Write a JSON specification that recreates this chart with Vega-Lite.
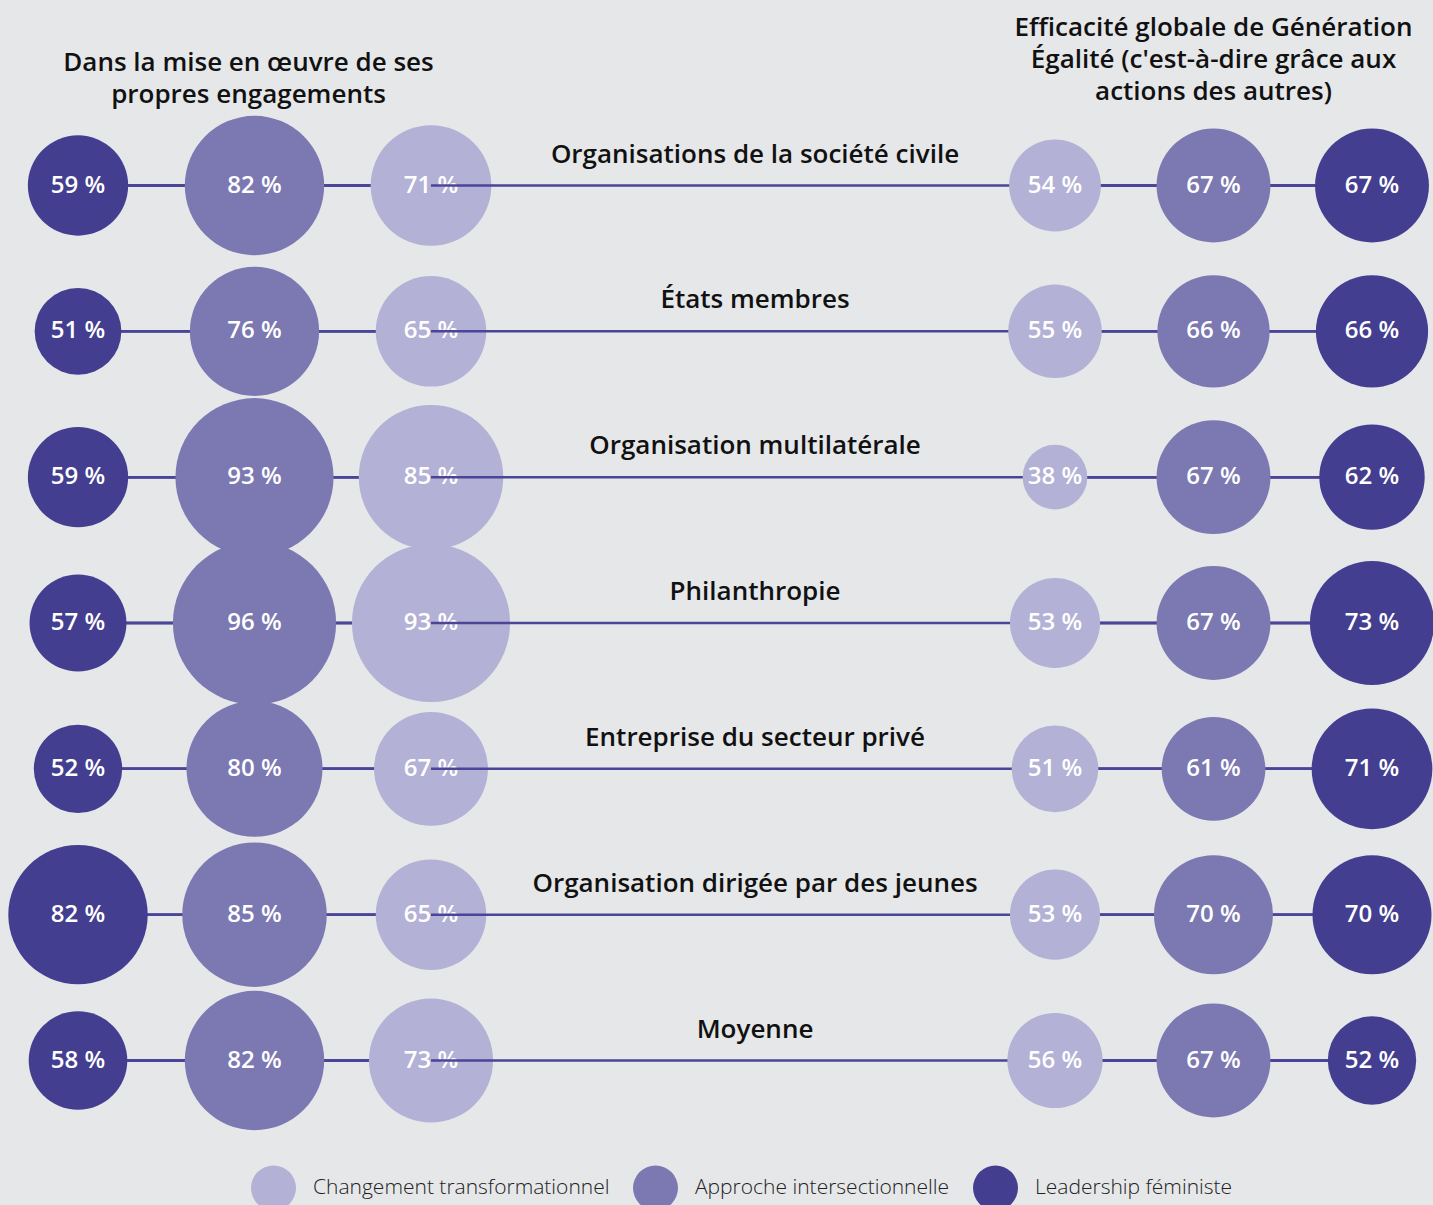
{
  "$schema": "https://vega.github.io/schema/vega-lite/v6.json",
  "background": "#e6e7e9",
  "padding": {"left": 8, "top": 14.5, "right": 0, "bottom": 0},
  "config": {
    "view": {"stroke": null},
    "font": "Open Sans",
    "title": {"font": "Open Sans", "fontSize": 26, "fontWeight": 600, "color": "#111111", "lineHeight": 32, "baseline": "bottom", "anchor": "middle", "frame": "group"}
  },
  "datasets": {
    "values": [
      {"org": "Organisations de la société civile", "side": "left", "measure": "Leadership féministe", "value": 59},
      {"org": "Organisations de la société civile", "side": "left", "measure": "Approche intersectionnelle", "value": 82},
      {"org": "Organisations de la société civile", "side": "left", "measure": "Changement transformationnel", "value": 71},
      {"org": "Organisations de la société civile", "side": "right", "measure": "Changement transformationnel", "value": 54},
      {"org": "Organisations de la société civile", "side": "right", "measure": "Approche intersectionnelle", "value": 67},
      {"org": "Organisations de la société civile", "side": "right", "measure": "Leadership féministe", "value": 67},
      {"org": "États membres", "side": "left", "measure": "Leadership féministe", "value": 51},
      {"org": "États membres", "side": "left", "measure": "Approche intersectionnelle", "value": 76},
      {"org": "États membres", "side": "left", "measure": "Changement transformationnel", "value": 65},
      {"org": "États membres", "side": "right", "measure": "Changement transformationnel", "value": 55},
      {"org": "États membres", "side": "right", "measure": "Approche intersectionnelle", "value": 66},
      {"org": "États membres", "side": "right", "measure": "Leadership féministe", "value": 66},
      {"org": "Organisation multilatérale", "side": "left", "measure": "Leadership féministe", "value": 59},
      {"org": "Organisation multilatérale", "side": "left", "measure": "Approche intersectionnelle", "value": 93},
      {"org": "Organisation multilatérale", "side": "left", "measure": "Changement transformationnel", "value": 85},
      {"org": "Organisation multilatérale", "side": "right", "measure": "Changement transformationnel", "value": 38},
      {"org": "Organisation multilatérale", "side": "right", "measure": "Approche intersectionnelle", "value": 67},
      {"org": "Organisation multilatérale", "side": "right", "measure": "Leadership féministe", "value": 62},
      {"org": "Philanthropie", "side": "left", "measure": "Leadership féministe", "value": 57},
      {"org": "Philanthropie", "side": "left", "measure": "Approche intersectionnelle", "value": 96},
      {"org": "Philanthropie", "side": "left", "measure": "Changement transformationnel", "value": 93},
      {"org": "Philanthropie", "side": "right", "measure": "Changement transformationnel", "value": 53},
      {"org": "Philanthropie", "side": "right", "measure": "Approche intersectionnelle", "value": 67},
      {"org": "Philanthropie", "side": "right", "measure": "Leadership féministe", "value": 73},
      {"org": "Entreprise du secteur privé", "side": "left", "measure": "Leadership féministe", "value": 52},
      {"org": "Entreprise du secteur privé", "side": "left", "measure": "Approche intersectionnelle", "value": 80},
      {"org": "Entreprise du secteur privé", "side": "left", "measure": "Changement transformationnel", "value": 67},
      {"org": "Entreprise du secteur privé", "side": "right", "measure": "Changement transformationnel", "value": 51},
      {"org": "Entreprise du secteur privé", "side": "right", "measure": "Approche intersectionnelle", "value": 61},
      {"org": "Entreprise du secteur privé", "side": "right", "measure": "Leadership féministe", "value": 71},
      {"org": "Organisation dirigée par des jeunes", "side": "left", "measure": "Leadership féministe", "value": 82},
      {"org": "Organisation dirigée par des jeunes", "side": "left", "measure": "Approche intersectionnelle", "value": 85},
      {"org": "Organisation dirigée par des jeunes", "side": "left", "measure": "Changement transformationnel", "value": 65},
      {"org": "Organisation dirigée par des jeunes", "side": "right", "measure": "Changement transformationnel", "value": 53},
      {"org": "Organisation dirigée par des jeunes", "side": "right", "measure": "Approche intersectionnelle", "value": 70},
      {"org": "Organisation dirigée par des jeunes", "side": "right", "measure": "Leadership féministe", "value": 70},
      {"org": "Moyenne", "side": "left", "measure": "Leadership féministe", "value": 58},
      {"org": "Moyenne", "side": "left", "measure": "Approche intersectionnelle", "value": 82},
      {"org": "Moyenne", "side": "left", "measure": "Changement transformationnel", "value": 73},
      {"org": "Moyenne", "side": "right", "measure": "Changement transformationnel", "value": 56},
      {"org": "Moyenne", "side": "right", "measure": "Approche intersectionnelle", "value": 67},
      {"org": "Moyenne", "side": "right", "measure": "Leadership féministe", "value": 52}
    ],
    "orgs": [
      {"org": "Organisations de la société civile"},
      {"org": "États membres"},
      {"org": "Organisation multilatérale"},
      {"org": "Philanthropie"},
      {"org": "Entreprise du secteur privé"},
      {"org": "Organisation dirigée par des jeunes"},
      {"org": "Moyenne"}
    ]
  },
  "spacing": 0,
  "bounds": "flush",
  "resolve": {"scale": {"x": "independent", "y": "independent", "color": "shared", "size": "shared"}},
  "hconcat": [
    {
      "width": 353,
      "height": 875,
      "title": {"text": ["Dans la mise en œuvre de ses", "propres engagements"], "offset": 8, "dx": -6},
      "data": {"name": "values"},
      "transform": [
        {"filter": "datum.side === 'left'"},
        {"calculate": "datum.value + ' %'", "as": "label"}
      ],
      "encoding": {
        "y": {"field": "org", "type": "nominal", "scale": {"type": "point", "domain": ["Organisations de la société civile", "États membres", "Organisation multilatérale", "Philanthropie", "Entreprise du secteur privé", "Organisation dirigée par des jeunes", "Moyenne"], "padding": 0}, "axis": null}
      },
      "layer": [
        {"mark": {"type": "rule", "color": "#4a4597", "strokeWidth": 2.5}, "encoding": {}},
        {
          "mark": {"type": "point", "filled": true, "opacity": 1, "shape": "circle"},
          "encoding": {
            "x": {"field": "measure", "type": "nominal", "scale": {"type": "point", "domain": ["Leadership féministe", "Approche intersectionnelle", "Changement transformationnel"], "padding": 0}, "axis": null},
            "size": {"field": "value", "type": "quantitative", "scale": {"type": "pow", "exponent": 2, "domain": [0, 100], "range": [0, 28900]}, "legend": null},
            "color": {"field": "measure", "type": "nominal", "scale": {"domain": ["Changement transformationnel", "Approche intersectionnelle", "Leadership féministe"], "range": ["#b3b1d5", "#7b78b2", "#433e90"]},
              "legend": {"title": null, "orient": "none", "legendX": 172, "legendY": 979, "direction": "horizontal", "symbolSize": 2025, "symbolType": "circle", "symbolOpacity": 1, "labelFontSize": 21, "labelFont": "Open Sans", "labelFontWeight": 300, "labelColor": "#222222", "labelOffset": 16, "columnPadding": 22, "labelLimit": 0}}
          }
        },
        {
          "mark": {"type": "text", "color": "white", "fontSize": 24, "fontWeight": 600, "font": "Open Sans"},
          "encoding": {
            "x": {"field": "measure", "type": "nominal", "scale": {"type": "point", "domain": ["Leadership féministe", "Approche intersectionnelle", "Changement transformationnel"], "padding": 0}, "axis": null},
            "text": {"field": "label"}
          }
        }
      ]
    },
    {
      "width": 624,
      "height": 875,
      "data": {"name": "orgs"},
      "encoding": {
        "y": {"field": "org", "type": "nominal", "scale": {"type": "point", "domain": ["Organisations de la société civile", "États membres", "Organisation multilatérale", "Philanthropie", "Entreprise du secteur privé", "Organisation dirigée par des jeunes", "Moyenne"], "padding": 0}, "axis": null}
      },
      "layer": [
        {"mark": {"type": "rule", "color": "#4a4597", "strokeWidth": 2.5}, "encoding": {}},
        {"mark": {"type": "text", "fontSize": 26, "fontWeight": 600, "font": "Open Sans", "color": "#111111", "dy": -31, "dx": 12}, "encoding": {"text": {"field": "org"}}}
      ]
    },
    {
      "width": 317,
      "height": 875,
      "title": {"text": ["Efficacité globale de Génération", "Égalité (c'est-à-dire grâce aux", "actions des autres)"], "offset": 24},
      "data": {"name": "values"},
      "transform": [
        {"filter": "datum.side === 'right'"},
        {"calculate": "datum.value + ' %'", "as": "label"}
      ],
      "encoding": {
        "y": {"field": "org", "type": "nominal", "scale": {"type": "point", "domain": ["Organisations de la société civile", "États membres", "Organisation multilatérale", "Philanthropie", "Entreprise du secteur privé", "Organisation dirigée par des jeunes", "Moyenne"], "padding": 0}, "axis": null}
      },
      "layer": [
        {"mark": {"type": "rule", "color": "#4a4597", "strokeWidth": 2.5}, "encoding": {}},
        {
          "mark": {"type": "point", "filled": true, "opacity": 1, "shape": "circle"},
          "encoding": {
            "x": {"field": "measure", "type": "nominal", "scale": {"type": "point", "domain": ["Changement transformationnel", "Approche intersectionnelle", "Leadership féministe"], "padding": 0}, "axis": null},
            "size": {"field": "value", "type": "quantitative", "scale": {"type": "pow", "exponent": 2, "domain": [0, 100], "range": [0, 28900]}, "legend": null},
            "color": {"field": "measure", "type": "nominal", "scale": {"domain": ["Changement transformationnel", "Approche intersectionnelle", "Leadership féministe"], "range": ["#b3b1d5", "#7b78b2", "#433e90"]}}
          }
        },
        {
          "mark": {"type": "text", "color": "white", "fontSize": 24, "fontWeight": 600, "font": "Open Sans"},
          "encoding": {
            "x": {"field": "measure", "type": "nominal", "scale": {"type": "point", "domain": ["Changement transformationnel", "Approche intersectionnelle", "Leadership féministe"], "padding": 0}, "axis": null},
            "text": {"field": "label"}
          }
        }
      ]
    }
  ]
}
